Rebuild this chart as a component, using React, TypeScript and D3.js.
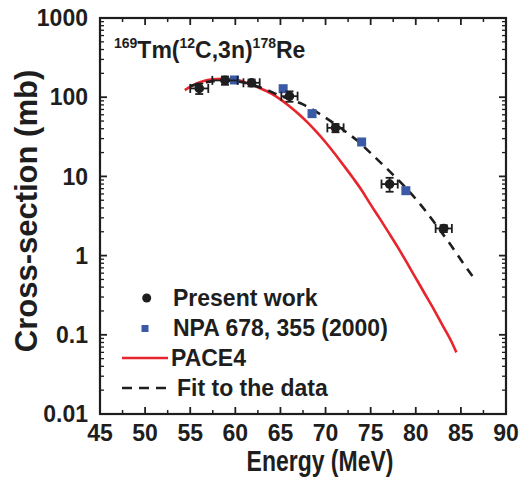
import React from "react";
import * as d3 from "d3";

// ---- data ----
const presentE = [56.0, 58.85, 61.8, 66.0, 71.1, 77.1, 83.1];
const presentY = [129, 163, 152, 103, 41, 8.0, 2.2];
const presentXErr = [1.0, 1.4, 0.9, 0.9, 0.9, 0.9, 0.9];
const presentYErrRel = [0.15, 0.12, 0.1, 0.15, 0.12, 0.2, 0.1];

const npaE = [59.9, 65.3, 68.5, 74.0, 78.9];
const npaY = [165, 128, 62, 27.2, 6.6];

const paceE = [54.4, 55.5, 56.5, 57.5, 58.5, 59.5, 60.5, 61.6, 62.8, 64, 65, 66, 67.17, 68, 69, 70, 71, 72, 73, 74, 75, 76, 77, 78, 79, 80, 81, 82, 83, 84, 84.5];
const paceY = [123, 145, 160, 168, 171, 169, 162, 146, 129, 111, 94, 77, 59.2, 48, 36.4, 27, 19.5, 13.8, 9.7, 6.7, 4.4, 2.95, 1.95, 1.28, 0.82, 0.52, 0.33, 0.21, 0.13, 0.08, 0.06];

const fitE = [55, 57, 59, 61, 63, 65, 67.5, 69.5, 71.5, 73.4, 75.4, 77.3, 79.3, 80.9, 82.3, 83.8, 85.2, 86.6];
const fitY = [138, 156, 162, 152, 130, 104, 81, 60, 42, 29, 17.8, 11, 6.4, 3.9, 2.4, 1.4, 0.82, 0.49];

const xTicks = [45, 50, 55, 60, 65, 70, 75, 80, 85, 90];
const yTicks = [0.01, 0.1, 1, 10, 100, 1000];
const yTickLabels = ["0.01", "0.1", "1", "10", "100", "1000"];

const legendLabels = ["Present work", "NPA 678, 355 (2000)", "PACE4", "Fit to the data"];

const W = 519, H = 481;
const L = 100, R = 506, T = 18, B = 414;
const FONT = "'Liberation Sans', Arial, Helvetica, sans-serif";
const RED = "#e8242c";
const BLUE = "#3b5aa6";
const INK = "#1e1e1e";

export default function App() {
  const x = d3.scaleLinear().domain([45, 90]).range([L, R]);
  const y = d3.scaleLog().domain([0.01, 1000]).range([B, T]);

  const line = d3
    .line<[number, number]>()
    .x((d) => x(d[0]))
    .y((d) => y(d[1]))
    .curve(d3.curveMonotoneX);

  const pacePath = line(paceE.map((e, i) => [e, paceY[i]] as [number, number])) || "";
  const fitPath = line(fitE.map((e, i) => [e, fitY[i]] as [number, number])) || "";

  const xMinor = d3.range(47.5, 90, 5);
  const yMinor: number[] = [];
  for (let p = -2; p < 3; p++) {
    for (let k = 2; k <= 9; k++) yMinor.push(k * Math.pow(10, p));
  }

  const major = 7, minor = 4;

  return (
    <svg width={W} height={H} style={{ display: "block", position: "absolute", left: 0, top: 0 }} fontFamily={FONT}>
      <rect x={0} y={0} width={W} height={H} fill="#fff" />
      <path d={pacePath} fill="none" stroke={RED} strokeWidth={2.6} />
      <path d={fitPath} fill="none" stroke={INK} strokeWidth={2.6} strokeDasharray="9 7" />

      {npaE.map((e, i) => (
        <rect key={"n" + i} x={x(e) - 4.5} y={y(npaY[i]) - 4.5} width={9} height={9} fill={BLUE} />
      ))}

      {presentE.map((e, i) => {
        const cx = x(e), cy = y(presentY[i]);
        const x0 = x(e - presentXErr[i]), x1 = x(e + presentXErr[i]);
        const y0 = y(presentY[i] * (1 - presentYErrRel[i])), y1 = y(presentY[i] * (1 + presentYErrRel[i]));
        return (
          <g key={"p" + i} stroke={INK} strokeWidth={1.8} fill="none">
            <line x1={x0} x2={x1} y1={cy} y2={cy} />
            <line x1={x0} x2={x0} y1={cy - 4.5} y2={cy + 4.5} />
            <line x1={x1} x2={x1} y1={cy - 4.5} y2={cy + 4.5} />
            <line x1={cx} x2={cx} y1={y0} y2={y1} />
            <line x1={cx - 4} x2={cx + 4} y1={y0} y2={y0} />
            <line x1={cx - 4} x2={cx + 4} y1={y1} y2={y1} />
            <circle cx={cx} cy={cy} r={4.8} fill={INK} stroke="none" />
          </g>
        );
      })}

      <rect x={L} y={T} width={R - L} height={B - T} fill="none" stroke={INK} strokeWidth={2.2} />

      {xTicks.map((t) => (
        <g key={"xt" + t} stroke={INK} strokeWidth={1.8}>
          <line x1={x(t)} x2={x(t)} y1={B} y2={B - major} />
          <line x1={x(t)} x2={x(t)} y1={T} y2={T + major} />
        </g>
      ))}
      {xMinor.map((t) => (
        <g key={"xm" + t} stroke={INK} strokeWidth={1.5}>
          <line x1={x(t)} x2={x(t)} y1={B} y2={B - minor} />
          <line x1={x(t)} x2={x(t)} y1={T} y2={T + minor} />
        </g>
      ))}
      {yTicks.map((t) => (
        <g key={"yt" + t} stroke={INK} strokeWidth={1.8}>
          <line x1={L} x2={L + major} y1={y(t)} y2={y(t)} />
          <line x1={R} x2={R - major} y1={y(t)} y2={y(t)} />
        </g>
      ))}
      {yMinor.map((t) => (
        <g key={"ym" + t} stroke={INK} strokeWidth={1.3}>
          <line x1={L} x2={L + minor} y1={y(t)} y2={y(t)} />
          <line x1={R} x2={R - minor} y1={y(t)} y2={y(t)} />
        </g>
      ))}

      {xTicks.map((t) => (
        <text key={"xl" + t} x={x(t)} y={441} textAnchor="middle" fontSize={23} fontWeight="bold" fill={INK}>
          {t}
        </text>
      ))}
      {yTicks.map((t, i) => (
        <text key={"yl" + t} x={88} y={y(t)} dy="0.36em" textAnchor="end" fontSize={23} fontWeight="bold" fill={INK}>
          {yTickLabels[i]}
        </text>
      ))}

      <text transform="translate(320,471) scale(1,1.25)" textAnchor="middle" fontSize={23} fontWeight="bold" fill={INK}>
        Energy (MeV)
      </text>
      <text transform="translate(37,211) rotate(-90)" textAnchor="middle" fontSize={31} fontWeight="bold" fill={INK}>
        Cross-section (mb)
      </text>

      <text x={114} y={58} fontSize={23} fontWeight="bold" fill={INK}>
        <tspan fontSize={14} dy={-10}>169</tspan>
        <tspan dy={10}>Tm(</tspan>
        <tspan fontSize={14} dy={-10}>12</tspan>
        <tspan dy={10}>C,3n)</tspan>
        <tspan fontSize={14} dy={-10}>178</tspan>
        <tspan dy={10}>Re</tspan>
      </text>

      <circle cx={146.7} cy={298} r={4.5} fill={INK} />
      <rect x={141.5} y={325} width={7} height={7} fill={BLUE} />
      <line x1={122} x2={168} y1={358} y2={358} stroke={RED} strokeWidth={2.6} />
      <line x1={122} x2={168} y1={388} y2={388} stroke={INK} strokeWidth={2.6} strokeDasharray="10 7" />
      <text x={173} y={306} fontSize={23} fontWeight="bold" fill={INK}>{legendLabels[0]}</text>
      <text x={173} y={336} fontSize={23} fontWeight="bold" fill={INK}>{legendLabels[1]}</text>
      <text x={171} y={366} fontSize={23} fontWeight="bold" fill={INK}>{legendLabels[2]}</text>
      <text x={177} y={396} fontSize={23} fontWeight="bold" fill={INK}>{legendLabels[3]}</text>
    </svg>
  );
}
